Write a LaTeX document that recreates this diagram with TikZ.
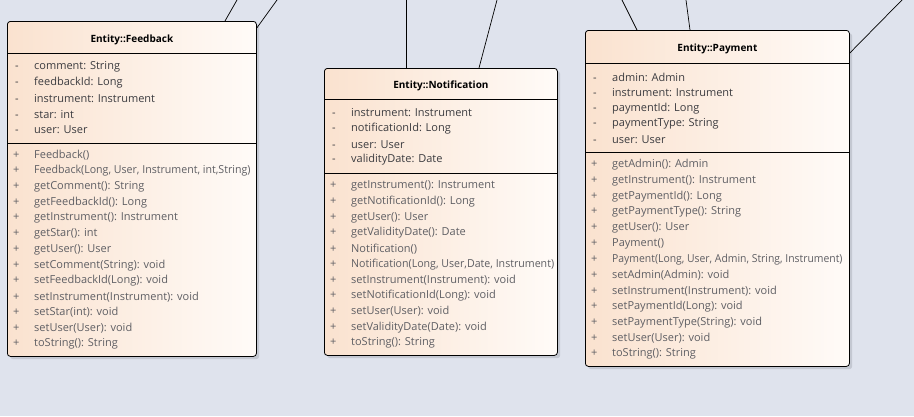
\documentclass[tikz,border=0pt]{standalone}
\usepackage{graphicx}
\usepackage{fontspec}
\setmainfont{Open Sans}
\definecolor{canvas}{RGB}{223,227,237}
\definecolor{peach}{RGB}{250,226,207}
\definecolor{paper}{RGB}{255,251,248}
\definecolor{attrgray}{RGB}{60,60,64}
\definecolor{opgray}{RGB}{95,95,100}
\definecolor{shade}{RGB}{196,200,210}
\newcommand{\squeeze}[2][0.965]{\scalebox{#1}[1]{#2}}

\tikzstyle{classbox}=[anchor=north west, draw=black, line width=0.8pt, rounded corners=3pt, left color=peach, right color=paper, inner sep=0pt]
\tikzstyle{boxshadow}=[anchor=north west, fill=shade, rounded corners=3pt, inner sep=0pt]
\tikzstyle{title}=[font=\bfseries\fontsize{10}{12}\selectfont]
\tikzstyle{attr}=[anchor=west, inner sep=0pt, text=attrgray, font=\fontsize{11}{13}\selectfont]
\tikzstyle{oper}=[attr, text=opgray]
\tikzstyle{sep}=[line width=0.8pt]
\tikzstyle{link}=[line width=0.7pt]

\begin{document}
\begin{tikzpicture}[x=1pt, y=-1pt]
  \useasboundingbox[fill=canvas] (0,0) rectangle (914,416);

  % Feedback
  \node[boxshadow, minimum width=249, minimum height=335] at (10,24) {};
  \node[classbox, minimum width=249, minimum height=335] (fb) at (7,21) {};
  \node[title] (fbt) at ([yshift=-19]fb.north) {Entity::Feedback};
  \draw[sep] ([yshift=-32]fb.north west) -- ([yshift=-32]fb.north east);
  \draw[sep] ([yshift=-122]fb.north west) -- ([yshift=-122]fb.north east);
  \foreach \t [count=\i] in {comment: String, feedbackId: Long, instrument: Instrument, star: int, user: User}
    \node[attr] at ([xshift=8, yshift=-46-(\i-1)*15.75]fb.north west) {\makebox[19pt][l]{-}\t};
  \foreach \t [count=\i] in {Feedback(), {\squeeze{Feedback(Long, User, Instrument, int,String)}}, getComment(): String,
      getFeedbackId(): Long, getInstrument(): Instrument, getStar(): int, getUser(): User,
      setComment(String): void, setFeedbackId(Long): void, setInstrument(Instrument): void,
      setStar(int): void, setUser(User): void, toString(): String}
    \node[oper] at ([xshift=6, yshift=-134-(\i-1)*15.75]fb.north west) {\makebox[21pt][l]{+}\t};

  % Notification
  \node[boxshadow, minimum width=233, minimum height=287] at (327,71) {};
  \node[classbox, minimum width=233, minimum height=287] (nt) at (324,68) {};
  \node[title] (ntt) at ([yshift=-18]nt.north) {Entity::Notification};
  \draw[sep] ([yshift=-31]nt.north west) -- ([yshift=-31]nt.north east);
  \draw[sep] ([yshift=-105]nt.north west) -- ([yshift=-105]nt.north east);
  \foreach \t [count=\i] in {instrument: Instrument, notificationId: Long, user: User, validityDate: Date}
    \node[attr] at ([xshift=8, yshift=-45-(\i-1)*15.7]nt.north west) {\makebox[19pt][l]{-}\t};
  \foreach \t [count=\i] in {getInstrument(): Instrument, getNotificationId(): Long, getUser(): User,
      getValidityDate(): Date, Notification(), {\squeeze{Notification(Long, User,Date, Instrument)}},
      setInstrument(Instrument): void, setNotificationId(Long): void, setUser(User): void,
      setValidityDate(Date): void, toString(): String}
    \node[oper] at ([xshift=6, yshift=-118-(\i-1)*15.7]nt.north west) {\makebox[21pt][l]{+}\t};

  % Payment
  \node[boxshadow, minimum width=264, minimum height=336] at (588,33) {};
  \node[classbox, minimum width=264, minimum height=336] (pm) at (585,30) {};
  \node[title] (pmt) at ([yshift=-19]pm.north) {Entity::Payment};
  \draw[sep] ([yshift=-33]pm.north west) -- ([yshift=-33]pm.north east);
  \draw[sep] ([yshift=-122]pm.north west) -- ([yshift=-122]pm.north east);
  \foreach \t [count=\i] in {admin: Admin, instrument: Instrument, paymentId: Long, paymentType: String, user: User}
    \node[attr] at ([xshift=8, yshift=-47-(\i-1)*15.75]pm.north west) {\makebox[19pt][l]{-}\t};
  \foreach \t [count=\i] in {getAdmin(): Admin, getInstrument(): Instrument, getPaymentId(): Long,
      getPaymentType(): String, getUser(): User, Payment(), {\squeeze[0.945]{Payment(Long, User, Admin, String, Instrument)}},
      setAdmin(Admin): void, setInstrument(Instrument): void, setPaymentId(Long): void,
      setPaymentType(String): void, setUser(User): void, toString(): String}
    \node[oper] at ([xshift=6, yshift=-135-(\i-1)*15.75]pm.north west) {\makebox[21pt][l]{+}\t};

  % links leaving the view
  \coordinate (fbA) at (237,0);
  \coordinate (fbB) at (277,0);
  \coordinate (ntA) at (406,0);
  \coordinate (ntB) at (497,0);
  \coordinate (pmA) at (622,0);
  \coordinate (pmB) at (686,0);
  \coordinate (pmC) at (902,0);
  \draw[link] ([xshift=218]fb.north west) -- (fbA);
  \draw[link] ([yshift=-7]fb.north east) -- (fbB);
  \draw[link] ([xshift=82]nt.north west) -- (ntA);
  \draw[link] ([xshift=155]nt.north west) -- (ntB);
  \draw[link] ([xshift=52]pm.north west) -- (pmA);
  \draw[link] ([xshift=105]pm.north west) -- (pmB);
  \draw[link] ([yshift=-23]pm.north east) -- (pmC);
\end{tikzpicture}
\end{document}
